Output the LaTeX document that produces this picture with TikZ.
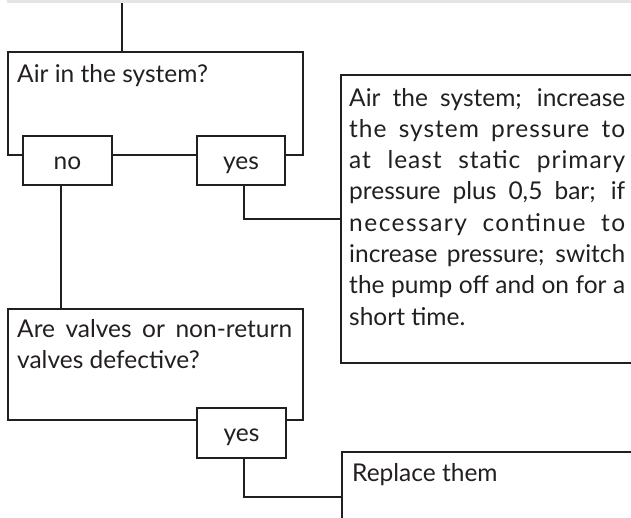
\documentclass[tikz,border=0pt]{standalone}
\usepackage{fontspec}
\setmainfont{Lato}
\usetikzlibrary{calc}
\definecolor{ink}{HTML}{231F20}
\newcommand{\ls}[1]{\addfontfeatures{LetterSpace=#1}}
\tikzset{
  frame/.style={draw=ink, line width=2pt, fill=white, inner sep=0pt},
  conn/.style={draw=ink, line width=2pt},
  txt/.style={anchor=base west, inner sep=0pt, text=ink, font=\fontsize{24.5}{31.5}\selectfont},
  ctxt/.style={anchor=base, inner sep=0pt, text=ink, font=\fontsize{24.5}{31.5}\selectfont}
}
\begin{document}
\begin{tikzpicture}[x=1pt,y=1pt]
\useasboundingbox (0,0) rectangle (631,-517);
\clip (0,0) rectangle (631,-517);
\fill[black!10] (7,0) rectangle (631,-2.5);
% boxes
\node[frame, minimum width=295pt, minimum height=103pt] (q1) at (155.5,-103.5) {};
\node[frame, minimum width=89pt, minimum height=49pt] (no) at (67.5,-160.5) {};
\node[frame, minimum width=88pt, minimum height=49pt] (yes1) at (241,-160.5) {};
\node[frame, minimum width=300pt, minimum height=288pt] (act1) at (491,-219) {};
\node[frame, minimum width=295pt, minimum height=111pt] (q2) at (155.5,-364.5) {};
\node[frame, minimum width=89pt, minimum height=50pt] (yes2) at (241.5,-433) {};
\node[frame, minimum width=300pt, minimum height=100pt] (act2) at (492,-502) {};
\coordinate (top) at (122,-3);
% texts
\node[txt] (t1) at (17,-82) {Air in the system?};
\node[ctxt] (tno) at (67.5,-169) {no};
\node[ctxt] (tyes1) at (241,-169) {yes};
\node[txt] (t2) at (349,-106) {\parbox[t]{276pt}{\fontsize{24.5}{31.3}\selectfont
\makebox[276pt][s]{Air the system; increase}\\
\makebox[276pt][s]{\ls{4}the system pressure to}\\
\makebox[276pt][s]{\ls{4}at least static primary}\\
\makebox[276pt][s]{pressure plus 0,5 bar; if}\\
\makebox[276pt][s]{\ls{6}necessary continue to}\\
\makebox[276pt][s]{increase pressure; switch}\\
\makebox[276pt][s]{the pump off and on for a}\\
short time.}};
\node[txt] (t3) at (17,-337) {\parbox[t]{275pt}{\fontsize{24.5}{31}\selectfont
\makebox[275pt][s]{Are valves or non-return}\\
valves defective?}};
\node[ctxt] (tyes2) at (241.5,-441.5) {yes};
\node[txt] (t4) at (352,-481) {Replace them};
% connectors
\draw[conn] (top) -- (top |- q1.north);
\draw[conn] ([xshift=-6.5pt]no.south) -- ([xshift=-6.5pt]no.south |- q2.north);
\draw[conn] ([xshift=3pt]yes1.south) |- (act1.west);
\draw[conn] ([xshift=2.5pt]yes2.south) |- ($(act2.west)+(0,5)$);
\end{tikzpicture}
\end{document}
